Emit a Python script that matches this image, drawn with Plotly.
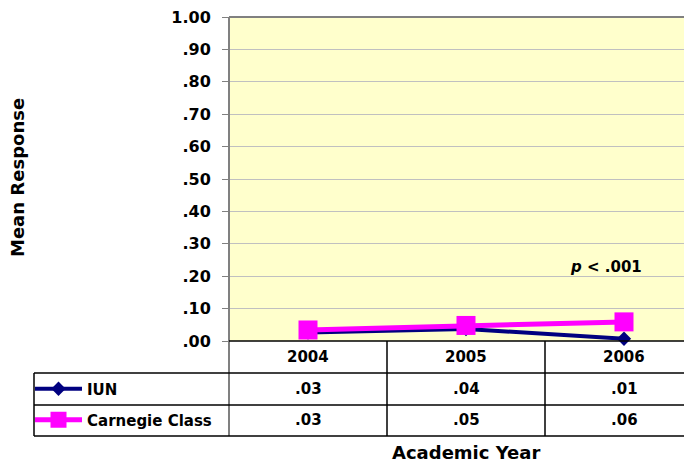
import plotly.graph_objects as go

years = ["2004", "2005", "2006"]
iun_values = [0.026, 0.037, 0.007]
carnegie_values = [0.034, 0.048, 0.059]
iun_labels = [".03", ".04", ".01"]
carnegie_labels = [".03", ".05", ".06"]
y_tickvals = [0.0, 0.1, 0.2, 0.3, 0.4, 0.5, 0.6, 0.7, 0.8, 0.9, 1.0]
y_ticktext = [".00", ".10", ".20", ".30", ".40", ".50", ".60", ".70", ".80", ".90", "1.00"]

W, H = 692, 462
OFF = 8  # page body margin of the html page
L, T = 229, 17
B_PIX = 341
PW = W - L
PH = B_PIX - T
COLW = 158.0
FONT = "DejaVu Sans"


def px(x):
    return (x - L) / PW


def py(y):
    return (B_PIX - y) / PH


fig = go.Figure()
fig.add_trace(go.Scatter(
    x=years, y=iun_values, name="IUN", mode="lines+markers",
    line=dict(color="#000080", width=4),
    marker=dict(symbol="diamond", size=11, color="#000080"),
    cliponaxis=False, legend="legend",
))
fig.add_trace(go.Scatter(
    x=years, y=carnegie_values, name="Carnegie Class", mode="lines+markers",
    line=dict(color="#FF00FF", width=5),
    marker=dict(symbol="square", size=19, color="#FF00FF"),
    cliponaxis=False, legend="legend2",
))

shapes = []
black = "#000000"
gray = "#808080"
shapes.append(dict(type="line", xref="paper", yref="paper", x0=0, x1=1, y0=1, y1=1,
                   line=dict(color=gray, width=2)))
shapes.append(dict(type="line", xref="paper", yref="paper", x0=0, x1=0, y0=1, y1=py(436),
                   line=dict(color=gray, width=2)))
shapes.append(dict(type="line", xref="paper", yref="paper", x0=0, x1=1, y0=0, y1=0,
                   line=dict(color=black, width=1.5)))
for yy in [373, 405, 436]:
    shapes.append(dict(type="line", xref="paper", yref="paper", x0=px(34), x1=1, y0=py(yy), y1=py(yy),
                       line=dict(color=black, width=1.5)))
shapes.append(dict(type="line", xref="paper", yref="paper", x0=px(34), x1=px(34), y0=py(373), y1=py(436),
                   line=dict(color=black, width=1.5)))
for i in range(len(years) - 1):
    xx = L + (i + 1) * COLW
    shapes.append(dict(type="line", xref="paper", yref="paper", x0=px(xx), x1=px(xx), y0=0, y1=py(436),
                       line=dict(color=black, width=1.5)))

annotations = []
tf = dict(family=FONT, size=15, color="#000000")
for i, yr in enumerate(years):
    xc = px(L + (i + 0.5) * COLW)
    annotations.append(dict(x=xc, y=py(357), xref="paper", yref="paper", text="<b>%s</b>" % yr,
                            showarrow=False, font=tf, xanchor="center", yanchor="middle"))
    annotations.append(dict(x=xc, y=py(389), xref="paper", yref="paper", text="<b>%s</b>" % iun_labels[i],
                            showarrow=False, font=tf, xanchor="center", yanchor="middle"))
    annotations.append(dict(x=xc, y=py(420), xref="paper", yref="paper", text="<b>%s</b>" % carnegie_labels[i],
                            showarrow=False, font=tf, xanchor="center", yanchor="middle"))

annotations.append(dict(x=px(466), y=py(452), xref="paper", yref="paper", text="<b>Academic Year</b>",
                        showarrow=False, font=dict(family=FONT, size=18, color="#000000"),
                        xanchor="center", yanchor="middle"))
annotations.append(dict(x=px(17), y=py(178), xref="paper", yref="paper", text="<b>Mean Response</b>",
                        showarrow=False, textangle=-90, font=dict(family=FONT, size=18, color="#000000"),
                        xanchor="center", yanchor="middle"))
annotations.append(dict(x=px(606), y=py(267), xref="paper", yref="paper", text="<b><i>p</i> &lt; .001</b>",
                        showarrow=False, font=dict(family=FONT, size=15, color="#000000"),
                        xanchor="center", yanchor="middle"))

legfont = dict(family=FONT, size=15, color="#000000", weight="bold")
fig.update_layout(
    width=W - OFF, height=H - OFF, autosize=False,
    margin=dict(l=L - OFF, r=0, t=T - OFF, b=H - B_PIX, pad=0),
    paper_bgcolor="#FFFFFF", plot_bgcolor="#FFFFCC",
    xaxis=dict(type="category", range=[-0.5, -0.5 + PW / COLW], showticklabels=False,
               showgrid=False, zeroline=False, showline=False, ticks=""),
    yaxis=dict(range=[0, 1], tickvals=y_tickvals, ticktext=y_ticktext, showgrid=True,
               gridcolor="#C0C0C0", gridwidth=1, zeroline=False, showline=False,
               ticks="outside", ticklen=6, tickcolor=gray, tickwidth=1,
               tickfont=dict(family=FONT, size=16, color="#000000", weight="bold"),
               ticklabelstandoff=8, ticklabeloverflow="allow"),
    showlegend=True,
    legend=dict(x=px(30), y=py(389), xanchor="left", yanchor="middle", bgcolor="rgba(0,0,0,0)",
                font=legfont, itemwidth=47, borderwidth=0, itemsizing="trace"),
    legend2=dict(x=px(30), y=py(420), xanchor="left", yanchor="middle", bgcolor="rgba(0,0,0,0)",
                 font=legfont, itemwidth=47, borderwidth=0, itemsizing="trace"),
    shapes=shapes, annotations=annotations,
)

fig.write_html("out.html")
